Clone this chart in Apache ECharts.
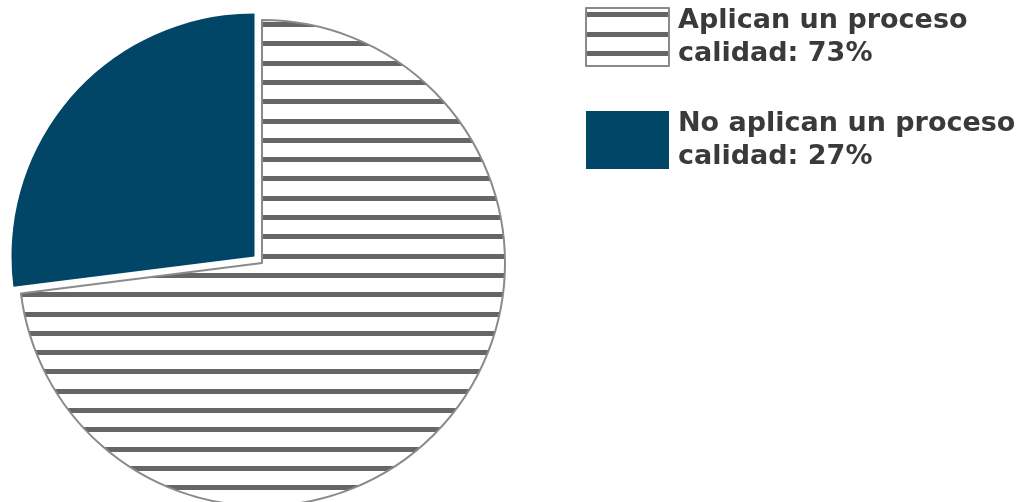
<!DOCTYPE html>
<html><head><meta charset="utf-8">
<script src="https://cdn.jsdelivr.net/npm/echarts@6/dist/echarts.min.js"></script>
<style>html,body{margin:0;padding:0;background:#fff}#c{width:1021px;height:502px}</style>
</head><body><div id="c"></div>
<script>
const categories = ['Aplican un proceso calidad', 'No aplican un proceso calidad'];
const values = [73, 27];

function stripes(first, period) {
  const pc = document.createElement('canvas');
  pc.width = 8; pc.height = 540;
  const g = pc.getContext('2d');
  g.fillStyle = '#ffffff'; g.fillRect(0, 0, 8, 540);
  g.fillStyle = '#666666';
  for (let k = -1; k < 28; k++) {
    const y = Math.round(first + k * period);
    g.fillRect(0, y, 8, 5);
  }
  return { image: pc, repeat: 'repeat' };
}
const piePattern = stripes(22, 19.3);
const legendPattern = stripes(4, 19.6);

const pieStyles = [
  { color: piePattern, borderColor: '#8a8a8a', borderWidth: 2 },
  { color: '#014667', borderColor: '#014667', borderWidth: 0 }
];
const legendStyles = [
  { color: legendPattern, borderColor: '#8a8a8a', borderWidth: 2 },
  { color: '#014667', borderColor: '#014667', borderWidth: 0 }
];

function fmt(name) {
  const v = values[categories.indexOf(name)];
  const cut = name.lastIndexOf(' ');
  return name.slice(0, cut) + '\n' + name.slice(cut + 1) + ': ' + v + '%';
}

const chart = echarts.init(document.getElementById('c'), null, { renderer: 'canvas' });
chart.setOption({
  animation: false,
  legend: {
    orient: 'vertical',
    left: 585, top: 0,
    padding: 0,
    itemWidth: 83, itemHeight: 58,
    itemGap: 29,
    icon: 'rect',
    selectedMode: false,
    data: categories.map((c, i) => ({ name: c, itemStyle: legendStyles[i] })),
    formatter: fmt,
    textStyle: {
      fontFamily: 'DejaVu Sans', fontWeight: 'bold', fontSize: 27,
      color: '#3a3a3a', lineHeight: 33, padding: [8, 0, 0, 4]
    }
  },
  series: [{
    type: 'pie',
    center: [262, 263],
    radius: 243,
    startAngle: 90,
    clockwise: true,
    selectedMode: 'single',
    selectedOffset: 10,
    label: { show: false },
    labelLine: { show: false },
    emphasis: { disabled: true },
    data: categories.map((c, i) => ({
      name: c, value: values[i], itemStyle: pieStyles[i], selected: i === 1
    }))
  }]
});
</script></body></html>
